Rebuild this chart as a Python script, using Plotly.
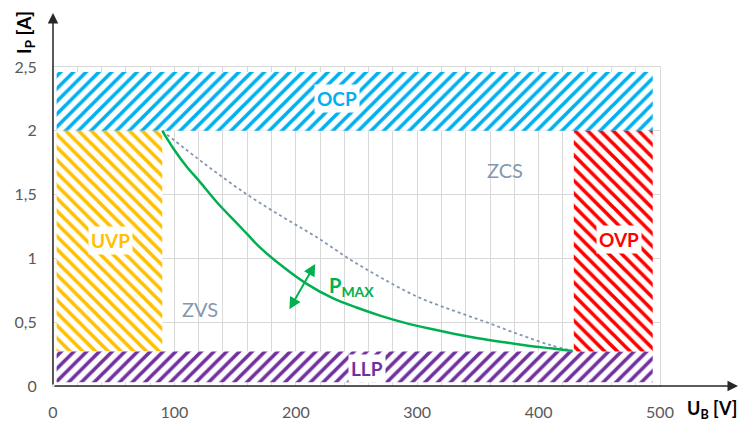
import plotly.graph_objects as go

# ---------------- data ----------------
X_TICK_VALUES = [0, 100, 200, 300, 400, 500]
X_TICK_LABELS = ["0", "100", "200", "300", "400", "500"]
Y_TICK_VALUES = [0, 0.5, 1, 1.5, 2, 2.5]
Y_TICK_LABELS = ["0", "0,5", "1", "1,5", "2", "2,5"]

# protection regions: [x0, x1, y0, y1]
REGION_NAMES = ["OCP", "UVP", "LLP", "OVP"]
REGION_X0 = [3, 3, 3, 429]
REGION_X1 = [494, 90, 494, 494]
REGION_Y0 = [2.0, 0.27, 0.03, 0.27]
REGION_Y1 = [2.46, 2.0, 0.27, 2.0]
REGION_COLORS = ["#00B0F0", "#FFC000", "#7030A0", "#FF0000"]
REGION_HATCH = ["/", "\\", "/", "\\"]
REGION_LABEL_X = [234, 47, 259, 466]
REGION_LABEL_Y = [2.25, 1.14, 0.14, 1.15]

# maximum power curve (green)
PMAX_U = [90, 100, 110, 121, 135, 150, 160, 170, 190, 209, 230, 250, 270, 290,
          310, 330, 350, 370, 390, 410, 428]
PMAX_I = [2.0, 1.85, 1.72, 1.60, 1.44, 1.29, 1.19, 1.09, 0.93, 0.80, 0.69, 0.615,
          0.55, 0.495, 0.45, 0.41, 0.375, 0.345, 0.318, 0.295, 0.275]

# ZVS/ZCS boundary (dotted)
BOUND_U = [90, 125, 160, 190, 217, 245, 270, 300, 330, 357, 385, 410, 428]
BOUND_I = [2.0, 1.74, 1.50, 1.32, 1.167, 0.99, 0.85, 0.70, 0.59, 0.50, 0.40, 0.32, 0.275]

# ---------------- figure ----------------
FONT = "Lato"
fig = go.Figure()

for name, x0, x1, y0, y1, col, hat in zip(REGION_NAMES, REGION_X0, REGION_X1,
                                           REGION_Y0, REGION_Y1, REGION_COLORS, REGION_HATCH):
    fig.add_trace(go.Scatter(
        x=[x0, x1, x1, x0, x0], y=[y0, y0, y1, y1, y0],
        mode="lines", line=dict(width=0, color=col),
        fill="toself", fillcolor="white",
        fillpattern=dict(shape=hat, fgcolor=col, bgcolor="white", fgopacity=1,
                         size=9, solidity=0.4),
        hoverinfo="skip", showlegend=False))

fig.add_trace(go.Scatter(x=BOUND_U, y=BOUND_I, mode="lines",
                         line=dict(color="#8497B0", width=1.8, dash="dot", shape="spline"),
                         showlegend=False))
fig.add_trace(go.Scatter(x=PMAX_U, y=PMAX_I, mode="lines",
                         line=dict(color="#00B050", width=2.5, shape="spline"),
                         showlegend=False))

# region labels
for name, lx, ly, col in zip(REGION_NAMES, REGION_LABEL_X, REGION_LABEL_Y, REGION_COLORS):
    fig.add_annotation(x=lx, y=ly, text=f"<b>{name}</b>", showarrow=False,
                       font=dict(family=FONT, size=19, color=col),
                       bgcolor="white", borderpad=2)

fig.add_annotation(x=372, y=1.69, text="ZCS", showarrow=False,
                   font=dict(family=FONT, size=20, color="#8497B0"))
fig.add_annotation(x=121, y=0.60, text="ZVS", showarrow=False,
                   font=dict(family=FONT, size=20, color="#8497B0"))
fig.add_annotation(x=246, y=0.78, text="<b>P<sub>MAX</sub></b>", showarrow=False,
                   font=dict(family=FONT, size=20, color="#00B050"))

# double arrow
fig.add_annotation(x=216, y=0.957, ax=194, ay=0.589, xref="x", yref="y",
                   axref="x", ayref="y", text="", showarrow=True,
                   arrowhead=2, startarrowhead=2, arrowside="end+start",
                   arrowsize=1.2, startarrowsize=1.2, arrowwidth=2, arrowcolor="#00B050")

# axis arrows
fig.add_annotation(x=0, y=1.169, xref="paper", yref="paper", ax=0, ay=373,
                   text="", showarrow=True, arrowhead=2, arrowsize=1.4,
                   arrowwidth=1.5, arrowcolor="#262626")
fig.add_annotation(x=1.1285, y=0, xref="paper", yref="paper", ax=-685, ay=0,
                   text="", showarrow=True, arrowhead=2, arrowsize=1.4,
                   arrowwidth=1.5, arrowcolor="#262626")

# axis titles
fig.add_annotation(x=-0.046, y=1.107, xref="paper", yref="paper",
                   xanchor="center", yanchor="middle",
                   text="<b>I<sub>P</sub> [A]</b>", textangle=-90, showarrow=False,
                   font=dict(family=FONT, size=19, color="#000000"))
fig.add_annotation(x=1.085, y=-0.074, xref="paper", yref="paper",
                   xanchor="center", yanchor="middle",
                   text="<b>U<sub>B</sub> [V]</b>", showarrow=False,
                   font=dict(family=FONT, size=18, color="#000000"))

grid = "#D9D9D9"
fig.update_layout(
    width=739, height=421,
    margin=dict(l=53, r=79, t=67, b=35, autoexpand=False),
    paper_bgcolor="white", plot_bgcolor="white",
    showlegend=False,
    xaxis=dict(range=[0, 500], tickvals=X_TICK_VALUES, ticktext=X_TICK_LABELS,
               showgrid=True, gridcolor=grid, gridwidth=1,
               minor=dict(dtick=20, showgrid=True, gridcolor=grid, gridwidth=1),
               showline=True, mirror=True, linecolor=grid, zeroline=False,
               ticks="", ticklabelstandoff=12, automargin=False,
               tickfont=dict(family=FONT, size=16, color="#595959")),
    yaxis=dict(range=[0, 2.5], tickvals=Y_TICK_VALUES, ticktext=Y_TICK_LABELS,
               showgrid=True, gridcolor=grid, gridwidth=1,
               showline=True, mirror=True, linecolor=grid, zeroline=False,
               ticks="", ticklabelstandoff=12, automargin=False,
               tickfont=dict(family=FONT, size=16, color="#595959")),
)

fig.write_html("out.html", config={"displayModeBar": False},
               post_script="document.body.style.margin='0px';")
